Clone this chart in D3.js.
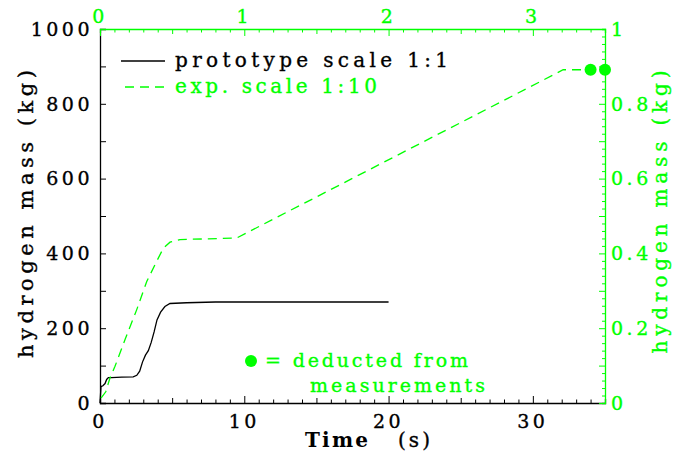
<!DOCTYPE html>
<html>
<head>
<meta charset="utf-8">
<script src="https://cdn.jsdelivr.net/npm/d3@7"></script>
<style>
  html, body { margin: 0; padding: 0; background: #fff; }
  svg { display: block; font-family: "DejaVu Serif", "Liberation Serif", serif; }
</style>
</head>
<body>
<svg id="chart" width="674" height="454"></svg>
<script>
// Prototype (scale 1:1): time in s, hydrogen mass in kg
const prototypeTime = [0, 0.07, 0.2, 0.35, 0.46, 0.58, 0.8, 1.5, 2.3, 2.55, 2.75, 2.95, 3.15, 3.35, 3.55, 3.75, 3.95, 4.2, 4.5, 4.85, 6, 8, 12, 16, 20];
const prototypeMass = [0, 44, 46, 52, 63, 68, 68, 69, 70, 74, 85, 110, 128, 140, 162, 190, 222, 243, 258, 266, 268, 270, 270, 270, 270];

// Experiment (scale 1:10): time on the top axis, mass (kg) on the right axis
const expTime = [0.007, 0.04, 0.069, 0.104, 0.173, 0.254, 0.324, 0.393, 0.439, 0.485, 0.554, 0.75, 0.947, 3.21, 3.4];
const expMass = [0.013, 0.03, 0.067, 0.098, 0.169, 0.249, 0.325, 0.379, 0.414, 0.43, 0.437, 0.439, 0.441, 0.891, 0.891];

// Masses deducted from measurements (experiment units)
const measuredTime = [3.4, 3.5];
const measuredMass = [0.891, 0.891];

// Tick labels
const bottomTicks = [0, 10, 20, 30];
const leftTicks = [0, 200, 400, 600, 800, 1000];
const topTicks = [0, 1, 2, 3];
const rightTicks = [0, 0.2, 0.4, 0.6, 0.8, 1];

const GREEN = "#00ff00";
const svg = d3.select("#chart");

const X0 = 100, X1 = 605, Y0 = 403, Y1 = 29;
const x = d3.scaleLinear().domain([0, 35]).range([X0, X1]);
const y = d3.scaleLinear().domain([0, 1000]).range([Y0, Y1]);
const xTop = d3.scaleLinear().domain([0, 3.5]).range([X0, X1]);
const yRight = d3.scaleLinear().domain([0, 1]).range([Y0, Y1]);

// slightly heavier strokes on all lettering
function ink(sel, color) {
  return sel.attr("fill", color).attr("stroke", color).attr("stroke-width", 0.35);
}

// ---- axes (ticks point into the plot) ----
function styleAxis(g, color) {
  g.select(".domain").attr("stroke", color).attr("stroke-width", 1.3);
  g.selectAll(".tick line").attr("stroke", color).attr("stroke-width", 1);
  g.selectAll("text").remove();
}

// bottom: minor every 1 s, larger every 5 and 10 s
const gB = svg.append("g").attr("transform", `translate(0,${Y0})`)
  .call(d3.axisTop(x).tickValues(d3.range(0, 36, 1)).tickSizeOuter(0).tickSize(4));
gB.selectAll(".tick line").attr("y2", d => d % 10 === 0 ? -7 : (d % 5 === 0 ? -5 : -3.5));
styleAxis(gB, "#000");

// left: every 100 kg
const gL = svg.append("g").attr("transform", `translate(${X0},0)`)
  .call(d3.axisRight(y).tickValues(d3.range(0, 1001, 100)).tickSizeOuter(0).tickSize(6));
styleAxis(gL, "#000");

// top: every 0.1, larger at integers
const gT = svg.append("g").attr("transform", `translate(0,${Y1})`)
  .call(d3.axisBottom(xTop).tickValues(d3.range(0, 36).map(i => i / 10)).tickSizeOuter(0).tickSize(4));
gT.selectAll(".tick line").attr("y2", (d, i) => i % 10 === 0 ? 7 : (i % 5 === 0 ? 5 : 3.5));
styleAxis(gT, GREEN);

// right: every 0.02, larger every 0.1
const gR = svg.append("g").attr("transform", `translate(${X1},0)`)
  .call(d3.axisLeft(yRight).tickValues(d3.range(0, 51).map(i => i / 50)).tickSizeOuter(0).tickSize(3));
gR.selectAll(".tick line").attr("x2", (d, i) => i % 5 === 0 ? -6 : -3);
styleAxis(gR, GREEN);

// ---- tick labels ----
const tickFont = { size: 19, spacing: 3.5 };
ink(svg.append("g").selectAll("text").data(leftTicks).join("text")
  .attr("x", 93).attr("y", d => y(d)).attr("dy", "0.36em")
  .attr("text-anchor", "end").attr("font-size", tickFont.size)
  .attr("letter-spacing", tickFont.spacing)
  .text(d => d), "#000");
ink(svg.append("g").selectAll("text").data(bottomTicks).join("text")
  .attr("x", d => x(d)).attr("y", 428)
  .attr("text-anchor", "middle").attr("font-size", tickFont.size)
  .attr("letter-spacing", tickFont.spacing)
  .text(d => d), "#000");
ink(svg.append("g").selectAll("text").data(topTicks).join("text")
  .attr("x", d => xTop(d)).attr("y", 23)
  .attr("text-anchor", "middle").attr("font-size", tickFont.size)
  .attr("letter-spacing", tickFont.spacing)
  .text(d => d), GREEN);
ink(svg.append("g").selectAll("text").data(rightTicks).join("text")
  .attr("x", 611).attr("y", d => yRight(d)).attr("dy", "0.36em")
  .attr("text-anchor", "start").attr("font-size", tickFont.size)
  .attr("letter-spacing", tickFont.spacing)
  .text(d => d), GREEN);

// ---- axis titles ----
ink(svg.append("text")
  .attr("transform", "translate(33,214) rotate(-90)")
  .attr("text-anchor", "middle").attr("font-size", 21)
  .attr("textLength", 288).attr("lengthAdjust", "spacing")
  .text("hydrogen mass (kg)"), "#000");
ink(svg.append("text")
  .attr("transform", "translate(667,212) rotate(-90)")
  .attr("text-anchor", "middle").attr("font-size", 20)
  .attr("textLength", 283).attr("lengthAdjust", "spacing")
  .text("hydrogen mass (kg)"), GREEN);
ink(svg.append("text").attr("x", 305).attr("y", 447)
  .attr("font-size", 20).attr("font-weight", "bold")
  .attr("textLength", 63).attr("lengthAdjust", "spacing")
  .text("Time"), "#000").attr("stroke-width", 0);
ink(svg.append("text").attr("x", 398).attr("y", 447)
  .attr("font-size", 20)
  .attr("textLength", 32).attr("lengthAdjust", "spacing")
  .text("(s)"), "#000");

// ---- data lines ----
const protoLine = d3.line().x(d => x(d[0])).y(d => y(d[1]));
svg.append("path")
  .datum(d3.zip(prototypeTime, prototypeMass))
  .attr("d", protoLine).attr("fill", "none")
  .attr("stroke", "#000").attr("stroke-width", 1.3);

const expLine = d3.line().x(d => xTop(d[0])).y(d => yRight(d[1]));
svg.append("path")
  .datum(d3.zip(expTime, expMass))
  .attr("d", expLine).attr("fill", "none")
  .attr("stroke", GREEN).attr("stroke-width", 1.3)
  .attr("stroke-dasharray", "9,6");

svg.append("g").selectAll("circle")
  .data(d3.zip(measuredTime, measuredMass)).join("circle")
  .attr("cx", d => xTop(d[0])).attr("cy", d => yRight(d[1]))
  .attr("r", 6).attr("fill", GREEN);

// ---- legend ----
svg.append("line").attr("x1", 121).attr("x2", 165).attr("y1", 61).attr("y2", 61)
  .attr("stroke", "#000").attr("stroke-width", 1.3);
ink(svg.append("text").attr("x", 175).attr("y", 67)
  .attr("font-size", 20).attr("textLength", 273).attr("lengthAdjust", "spacing")
  .text("prototype scale 1:1"), "#000");
svg.append("line").attr("x1", 125).attr("x2", 165).attr("y1", 87).attr("y2", 87)
  .attr("stroke", GREEN).attr("stroke-width", 1.3).attr("stroke-dasharray", "9,6");
ink(svg.append("text").attr("x", 175).attr("y", 93)
  .attr("font-size", 20).attr("textLength", 202).attr("lengthAdjust", "spacing")
  .text("exp. scale 1:10"), GREEN);

// ---- note on the measured points ----
svg.append("circle").attr("cx", 251).attr("cy", 361).attr("r", 6).attr("fill", GREEN);
ink(svg.append("text").attr("x", 265).attr("y", 367)
  .attr("font-size", 19).attr("textLength", 203).attr("lengthAdjust", "spacing")
  .text("= deducted from"), GREEN);
ink(svg.append("text").attr("x", 310).attr("y", 392)
  .attr("font-size", 19).attr("textLength", 175).attr("lengthAdjust", "spacing")
  .text("measurements"), GREEN);
</script>
</body>
</html>
